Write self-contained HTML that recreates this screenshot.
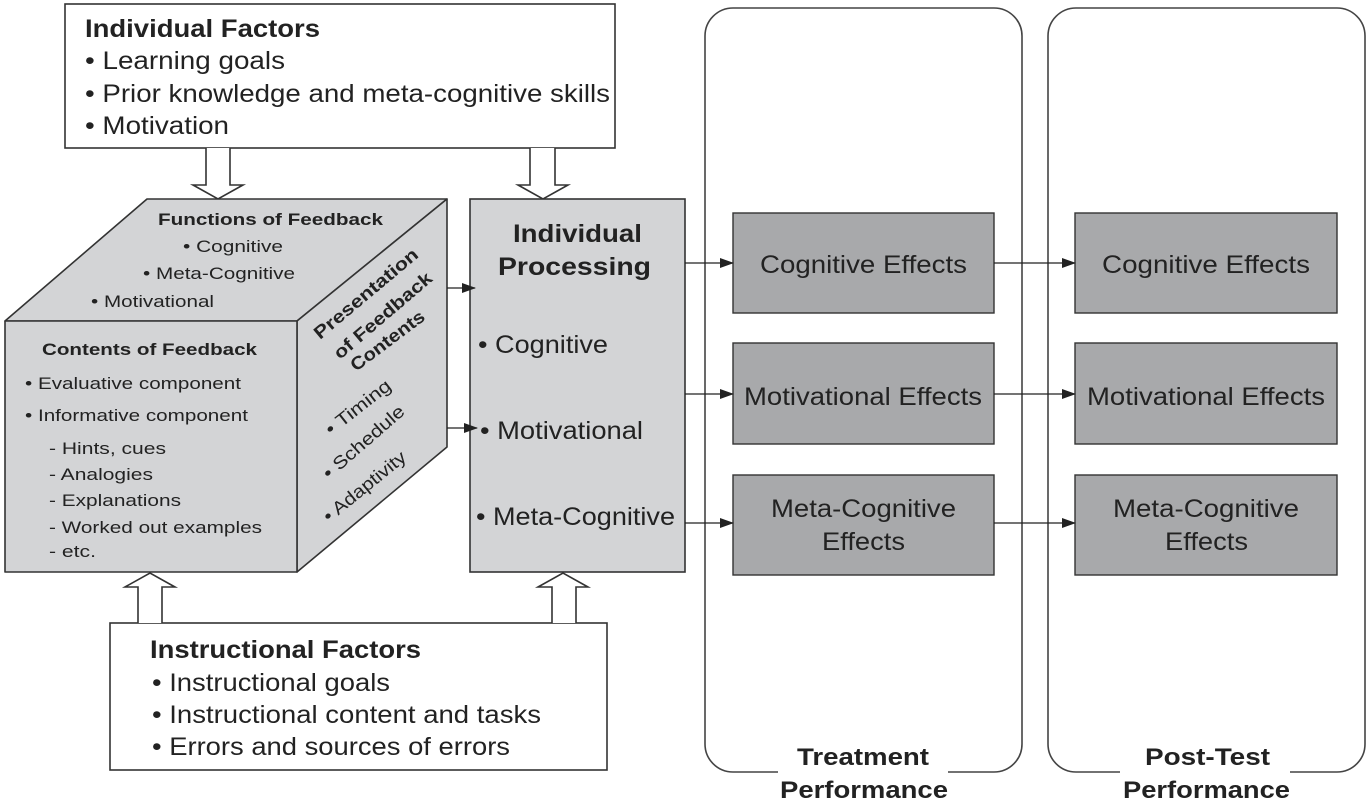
<!DOCTYPE html>
<html><head><meta charset="utf-8"><style>
html,body{margin:0;padding:0;background:#fff;}
svg{display:block;font-family:"Liberation Sans",Arial,sans-serif;}
</style></head><body>
<svg width="1369" height="803" viewBox="0 0 1369 803" xmlns="http://www.w3.org/2000/svg">
<defs><marker id="ah" markerWidth="14" markerHeight="10" refX="13" refY="5" orient="auto" markerUnits="userSpaceOnUse"><path d="M0,0 L14,5 L0,10 Z" fill="#222"/></marker></defs>
<g stroke="#444" stroke-width="1.6" fill="none">
<rect x="705" y="8" width="317" height="764" rx="28"/>
<rect x="1048" y="8" width="317" height="764" rx="28"/>
</g>
<rect x="778" y="760" width="170" height="20" fill="#fff"/>
<rect x="1120" y="760" width="170" height="20" fill="#fff"/>
<g font-weight="bold" font-size="24" fill="#222">
<text x="797" y="765" textLength="132" lengthAdjust="spacingAndGlyphs">Treatment</text>
<text x="780" y="798" textLength="168" lengthAdjust="spacingAndGlyphs">Performance</text>
<text x="1145" y="765" textLength="125" lengthAdjust="spacingAndGlyphs">Post-Test</text>
<text x="1123" y="798" textLength="167" lengthAdjust="spacingAndGlyphs">Performance</text>
</g>
<rect x="65" y="4" width="550" height="144" fill="#fff" stroke="#333" stroke-width="1.6"/>
<g font-size="25" fill="#222">
<text x="85" y="37" font-weight="bold" textLength="235" lengthAdjust="spacingAndGlyphs">Individual Factors</text>
<text x="85" y="69" textLength="200" lengthAdjust="spacingAndGlyphs">• Learning goals</text>
<text x="85" y="102" textLength="525" lengthAdjust="spacingAndGlyphs">• Prior knowledge and meta-cognitive skills</text>
<text x="85" y="134" textLength="144" lengthAdjust="spacingAndGlyphs">• Motivation</text>
</g>
<rect x="110" y="623" width="497" height="147" fill="#fff" stroke="#333" stroke-width="1.6"/>
<g font-size="25" fill="#222">
<text x="150" y="658" font-weight="bold" textLength="271" lengthAdjust="spacingAndGlyphs">Instructional Factors</text>
<text x="152" y="691" textLength="238" lengthAdjust="spacingAndGlyphs">• Instructional goals</text>
<text x="152" y="723" textLength="389" lengthAdjust="spacingAndGlyphs">• Instructional content and tasks</text>
<text x="152" y="755" textLength="358" lengthAdjust="spacingAndGlyphs">• Errors and sources of errors</text>
</g>
<g fill="#fff" stroke="#333" stroke-width="1.6">
<path d="M206,148 V185 H193 L218,199 L243,185 H230 V148"/>
<path d="M530,148 V185 H518 L543,199 L568,185 H555 V148"/>
<path d="M138,623 V587 H125 L150,573 L175,587 H162 V623"/>
<path d="M552,623 V587 H538 L563,573 L588,587 H576 V623"/>
</g>
<g fill="#d3d4d6" stroke="#333" stroke-width="1.6" stroke-linejoin="round">
<path d="M5,321 L147,199 L447,199 L297,321 Z"/>
<path d="M297,321 L447,199 L447,447 L297,572 Z"/>
<rect x="5" y="321" width="292" height="251"/>
</g>
<g fill="#222" font-size="17">
<text x="158" y="225" font-weight="bold" textLength="225" lengthAdjust="spacingAndGlyphs">Functions of Feedback</text>
<text x="183" y="252" textLength="100" lengthAdjust="spacingAndGlyphs">• Cognitive</text>
<text x="143" y="279" textLength="152" lengthAdjust="spacingAndGlyphs">• Meta-Cognitive</text>
<text x="91" y="307" textLength="123" lengthAdjust="spacingAndGlyphs">• Motivational</text>
<text x="42" y="355" font-weight="bold" textLength="215" lengthAdjust="spacingAndGlyphs">Contents of Feedback</text>
<text x="25" y="389" textLength="216" lengthAdjust="spacingAndGlyphs">• Evaluative component</text>
<text x="25" y="421" textLength="223" lengthAdjust="spacingAndGlyphs">• Informative component</text>
<text x="49" y="454" textLength="117" lengthAdjust="spacingAndGlyphs">- Hints, cues</text>
<text x="49" y="480" textLength="104" lengthAdjust="spacingAndGlyphs">- Analogies</text>
<text x="49" y="506" textLength="132" lengthAdjust="spacingAndGlyphs">- Explanations</text>
<text x="49" y="533" textLength="213" lengthAdjust="spacingAndGlyphs">- Worked out examples</text>
<text x="49" y="557" textLength="47" lengthAdjust="spacingAndGlyphs">- etc.</text>
<text transform="translate(320,340) rotate(-40)" font-weight="bold" font-size="18" textLength="130" lengthAdjust="spacingAndGlyphs">Presentation</text>
<text transform="translate(340,360) rotate(-40.5)" font-weight="bold" font-size="18" textLength="123" lengthAdjust="spacingAndGlyphs">of Feedback</text>
<text transform="translate(356,372) rotate(-37)" font-weight="bold" font-size="18" textLength="88" lengthAdjust="spacingAndGlyphs">Contents</text>
<text transform="translate(331,436) rotate(-38)" font-size="18" textLength="78" lengthAdjust="spacingAndGlyphs">• Timing</text>
<text transform="translate(329,480) rotate(-41)" font-size="18" textLength="102" lengthAdjust="spacingAndGlyphs">• Schedule</text>
<text transform="translate(329,523) rotate(-39)" font-size="18" textLength="101" lengthAdjust="spacingAndGlyphs">• Adaptivity</text>
</g>
<rect x="470" y="199" width="215" height="373" fill="#d3d4d6" stroke="#333" stroke-width="1.6"/>
<g fill="#222" font-size="25">
<text x="513" y="242" font-weight="bold" textLength="129" lengthAdjust="spacingAndGlyphs">Individual</text>
<text x="498" y="275" font-weight="bold" textLength="153" lengthAdjust="spacingAndGlyphs">Processing</text>
<text x="478" y="353" textLength="130" lengthAdjust="spacingAndGlyphs">• Cognitive</text>
<text x="480" y="439" textLength="163" lengthAdjust="spacingAndGlyphs">• Motivational</text>
<text x="476" y="525" textLength="199" lengthAdjust="spacingAndGlyphs">• Meta-Cognitive</text>
</g>
<g fill="#a8a9ab" stroke="#333" stroke-width="1.4">
<rect x="733" y="213" width="261" height="100"/>
<rect x="733" y="343" width="261" height="101"/>
<rect x="733" y="475" width="261" height="100"/>
<rect x="1075" y="213" width="262" height="100"/>
<rect x="1075" y="343" width="262" height="101"/>
<rect x="1075" y="475" width="262" height="100"/>
</g>
<g fill="#222" font-size="25">
<text x="760" y="273" textLength="207" lengthAdjust="spacingAndGlyphs">Cognitive Effects</text>
<text x="744" y="405" textLength="238" lengthAdjust="spacingAndGlyphs">Motivational Effects</text>
<text x="771" y="517" textLength="185" lengthAdjust="spacingAndGlyphs">Meta-Cognitive</text>
<text x="822" y="550" textLength="83" lengthAdjust="spacingAndGlyphs">Effects</text>
<text x="1102" y="273" textLength="208" lengthAdjust="spacingAndGlyphs">Cognitive Effects</text>
<text x="1087" y="405" textLength="238" lengthAdjust="spacingAndGlyphs">Motivational Effects</text>
<text x="1113" y="517" textLength="186" lengthAdjust="spacingAndGlyphs">Meta-Cognitive</text>
<text x="1165" y="550" textLength="83" lengthAdjust="spacingAndGlyphs">Effects</text>
</g>
<g stroke="#222" stroke-width="1.3" marker-end="url(#ah)">
<line x1="447" y1="288" x2="475" y2="288"/>
<line x1="447" y1="428" x2="477" y2="428"/>
<line x1="685" y1="263" x2="733" y2="263"/>
<line x1="685" y1="394" x2="733" y2="394"/>
<line x1="685" y1="523" x2="733" y2="523"/>
<line x1="994" y1="263" x2="1075" y2="263"/>
<line x1="994" y1="394" x2="1075" y2="394"/>
<line x1="994" y1="523" x2="1075" y2="523"/>
</g>
</svg>
</body></html>
